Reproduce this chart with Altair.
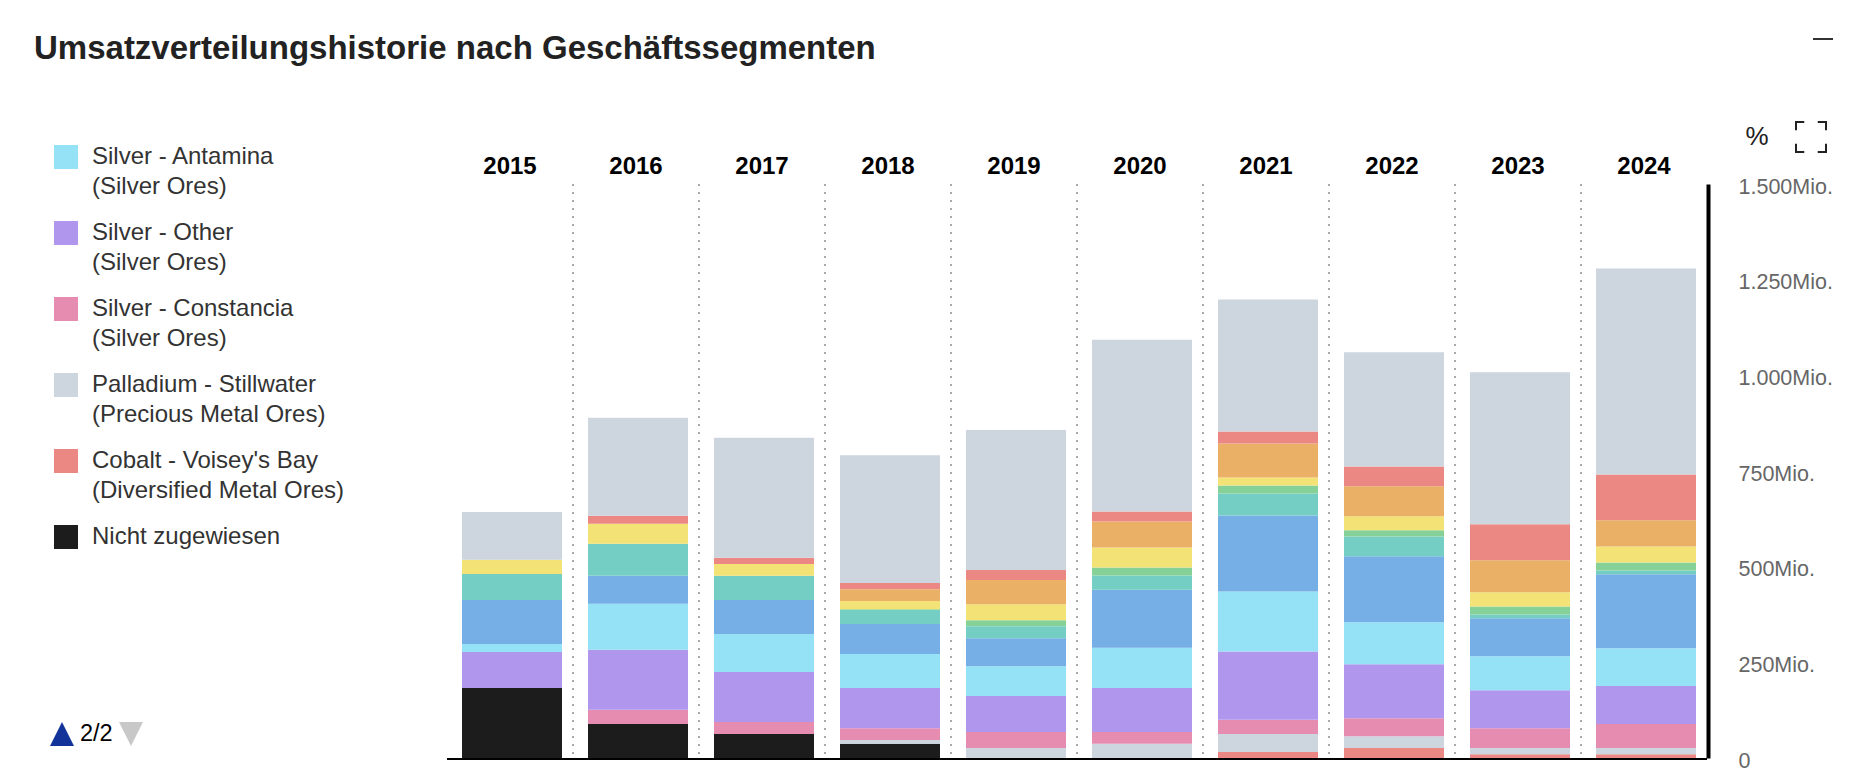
import altair as alt
import pandas as pd

years = [2015, 2016, 2017, 2018, 2019, 2020, 2021, 2022, 2023, 2024]
separator_years = years[:-1]

# hidden legend page 1 entries have no readable names, so neutral keys are used for them
series_names = [
    "Nicht zugewiesen",
    "Cobalt - Voisey's Bay\n(Diversified Metal Ores)",
    "Palladium - Stillwater\n(Precious Metal Ores)",
    "Silver - Constancia\n(Silver Ores)",
    "Silver - Other\n(Silver Ores)",
    "Silver - Antamina\n(Silver Ores)",
    "Segment Blau",
    "Segment Türkis",
    "Segment Grün",
    "Segment Gelb",
    "Segment Orange",
    "Segment Rot",
    "Segment Grau",
]
series_colors = ["#1c1c1c", "#eb8884", "#cdd5df", "#e68cb1", "#b196ee", "#95e2f6",
                 "#75afe6", "#75cec4", "#85d197", "#f3e276", "#eab065", "#eb8884", "#cdd5df"]
legend_entries = [series_names[5], series_names[4], series_names[3],
                  series_names[2], series_names[1], series_names[0]]

unassigned = [183, 89, 63, 37, 0, 0, 0, 0, 0, 0]
cobalt =     [0, 0, 0, 0, 0, 0, 16, 26, 10, 10]
palladium =  [0, 0, 0, 10, 26, 37, 47, 31, 16, 16]
constancia = [0, 37, 31, 31, 42, 31, 37, 47, 52, 63]
other =      [94, 157, 131, 105, 94, 115, 178, 141, 99, 99]
antamina =   [21, 120, 99, 89, 78, 105, 157, 110, 89, 99]
blue =       [115, 73, 89, 78, 73, 152, 199, 172, 99, 193]
teal =       [68, 84, 63, 37, 31, 37, 57, 52, 10, 10]
green =      [0, 0, 0, 2, 16, 21, 21, 16, 21, 21]
yellow =     [37, 52, 31, 21, 42, 52, 21, 37, 37, 42]
orange =     [0, 0, 0, 31, 63, 68, 89, 78, 84, 68]
red =        [0, 21, 16, 16, 26, 26, 31, 52, 94, 120]
grey =       [125, 256, 314, 334, 366, 449, 345, 298, 397, 538]
series_values = [unassigned, cobalt, palladium, constancia, other, antamina,
                 blue, teal, green, yellow, orange, red, grey]
axis_ticks = [0, 250, 500, 750, 1000, 1250, 1500]

rows = []
for i, (name, values) in enumerate(zip(series_names, series_values)):
    for year, value in zip(years, values):
        rows.append({"year": year, "series": name, "rank": i, "value": value})
df = pd.DataFrame(rows)
sep_df = pd.DataFrame({"year": separator_years})
one = pd.DataFrame({"k": [0]})

FONT = "Liberation Sans"
label_expr = "split(datum.label,'\\n')"

bars = alt.Chart(df).mark_bar(width=100, xOffset=2).encode(
    x=alt.X("year:O", title=None,
            scale=alt.Scale(paddingInner=0, paddingOuter=0),
            axis=alt.Axis(orient="top", domain=False, ticks=False, grid=False, labelAngle=0,
                          labelFont=FONT, labelFontSize=24, labelFontWeight="bold",
                          labelColor="#000000", labelPadding=6)),
    y=alt.Y("value:Q", stack="zero", title=None,
            scale=alt.Scale(domain=[0, 1500], nice=False),
            axis=alt.Axis(orient="right", values=axis_ticks, grid=False, ticks=False,
                          domainColor="#000000", domainWidth=4, offset=1, labelPadding=30,
                          labelFont=FONT, labelFontSize=21.5, labelColor="#666666",
                          labelFlush=False, labelOffset=3,
                          labelExpr="datum.value==0 ? '0' : replace(format(datum.value,',d'),',','.')+'Mio.'")),
    color=alt.Color("series:N", scale=alt.Scale(domain=series_names, range=series_colors),
                    legend=alt.Legend(orient="none", legendX=-393, legendY=-39, title=None,
                                      values=legend_entries, symbolType="square", symbolSize=576,
                                      symbolStrokeWidth=0, symbolOpacity=1, labelFont=FONT,
                                      labelFontSize=24, labelColor="#333333", labelOffset=14,
                                      labelLimit=600, rowPadding=22, labelExpr=label_expr)),
    order=alt.Order("rank:Q", sort="ascending"),
)

separators = alt.Chart(sep_df).mark_rule(color="#a8a8a8", strokeWidth=2, strokeDash=[2, 6]).encode(
    x=alt.X("year:O", bandPosition=1),
)

baseline = alt.Chart(one).mark_rule(color="#000000", strokeWidth=2, yOffset=1).encode(y=alt.datum(0))

up = alt.Chart(one).mark_point(shape="M0,-1L1,1L-1,1Z", size=576, filled=True, opacity=1,
                               color="#12339a").encode(x=alt.value(-385), y=alt.value(550))
down = alt.Chart(one).mark_point(shape="M-1,-1L1,-1L0,1Z", size=576, filled=True, opacity=1,
                                 color="#c8c8c8").encode(x=alt.value(-316), y=alt.value(550))
page = alt.Chart(one).mark_text(text="2/2", font=FONT, fontSize=23.5, color="#000000",
                                align="left", baseline="middle").encode(x=alt.value(-367), y=alt.value(550))
percent = alt.Chart(one).mark_text(text="%", font=FONT, fontSize=26, color="#222222",
                                   align="center", baseline="middle").encode(x=alt.value(1310), y=alt.value(-47))
expand = alt.Chart(one).mark_point(
    shape="M-1,-0.45L-1,-1L-0.45,-1M0.45,-1L1,-1L1,-0.45M1,0.45L1,1L0.45,1M-0.45,1L-1,1L-1,0.45",
    size=900, filled=False, opacity=1, color="#222222", strokeWidth=2,
).encode(x=alt.value(1364), y=alt.value(-47))
minimize = alt.Chart(one).mark_rule(color="#333333", strokeWidth=2).encode(
    x=alt.value(1366), x2=alt.value(1386), y=alt.value(-145))

chart = alt.layer(bars, separators, baseline, up, down, page, percent, expand, minimize).properties(
    width=1260, height=574,
    autosize=alt.AutoSizeParams(type="none"),
    padding={"left": 439, "top": 176, "right": 151, "bottom": 16},
    title=alt.TitleParams("Umsatzverteilungshistorie nach Geschäftssegmenten", anchor="start",
                          frame="group", dx=-413, dy=32, font=FONT, fontSize=33,
                          fontWeight="bold", color="#222222"),
    config=alt.Config(view=alt.ViewConfig(stroke=None), style={"guide-label": {"lineHeight": 30}}),
)

chart.save("out.html", embed_options={"renderer": "svg", "actions": False})
